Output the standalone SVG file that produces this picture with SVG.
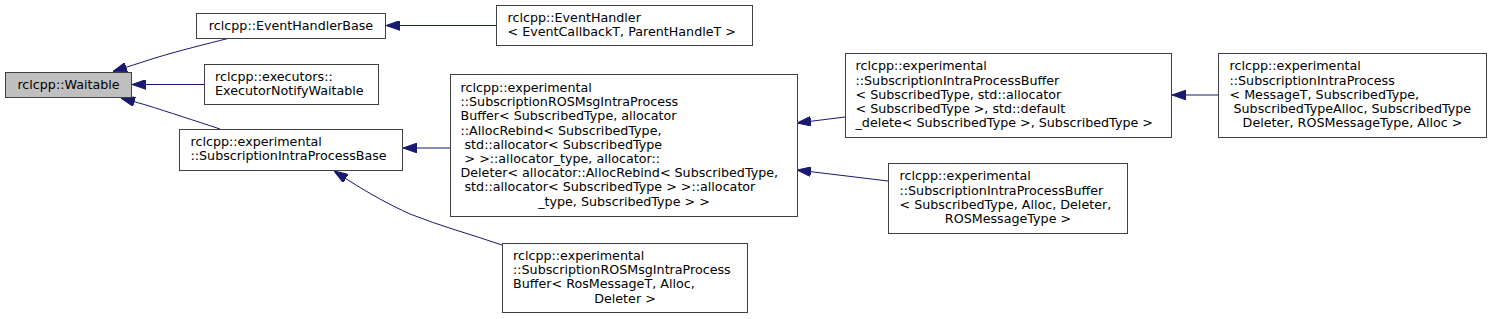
<svg xmlns="http://www.w3.org/2000/svg" width="1492" height="319" viewBox="0 0 1492 319">
<style>
.box{fill:#ffffff;stroke:#404040;stroke-width:1}
.root{fill:#bfbfbf;stroke:#404040;stroke-width:1}
.t{font-family:"DejaVu Sans",sans-serif;font-size:12.7px;fill:#000000}
.c{text-anchor:middle}
.e{fill:none;stroke:#191970;stroke-width:1;marker-end:url(#arr)}
</style>
<defs>
<marker id="arr" markerUnits="userSpaceOnUse" markerWidth="14" markerHeight="10" viewBox="0 0 13 9" refX="13" refY="4.5" orient="auto">
<path d="M0,0 L13,4.5 L0,9 z" fill="#191970" stroke="#191970" stroke-width="1"/>
</marker>
</defs>
<rect width="1492" height="319" fill="#ffffff"/>
<g id="edges">
<path class="e" d="M496,25.5 L386,25.5"/>
<path class="e" d="M230,38 C206,44 178,51 155,58 L113,71.5"/>
<path class="e" d="M204,84.5 L132,84.5"/>
<path class="e" d="M220,129 C196,121 168,112 146,105 L121,98"/>
<path class="e" d="M450,148 L403,148"/>
<path class="e" d="M502,245 C470,234 440,226 410,214 C390,205 370,194 348,180 L334,171"/>
<path class="e" d="M845,117 L797,123"/>
<path class="e" d="M888,181 L797,170"/>
<path class="e" d="M1218,95 L1172,95"/>
</g>
<g id="n_waitable">
<rect class="root" x="5.5" y="72.5" width="126" height="25"/>
<text class="t c" x="68.5" y="89">rclcpp::Waitable</text>
</g>
<g id="n_eventhandlerbase">
<rect class="box" x="196.5" y="13.5" width="189" height="25"/>
<text class="t c" x="291" y="30">rclcpp::EventHandlerBase</text>
</g>
<g id="n_executornotify">
<rect class="box" x="204.5" y="64.5" width="174" height="40"/>
<text class="t"><tspan x="215" y="80.5">rclcpp::executors::</tspan><tspan x="215" y="94.7">ExecutorNotifyWaitable</tspan></text>
</g>
<g id="n_sipbase">
<rect class="box" x="179.5" y="129.5" width="223" height="41"/>
<text class="t"><tspan x="190.5" y="146">rclcpp::experimental</tspan><tspan x="190.5" y="160.2">::SubscriptionIntraProcessBase</tspan></text>
</g>
<g id="n_eventhandler">
<rect class="box" x="496.5" y="5.5" width="256" height="40"/>
<text class="t"><tspan x="507.5" y="21.5">rclcpp::EventHandler</tspan><tspan x="507.5" y="35.7">&lt; EventCallbackT, ParentHandleT &gt;</tspan></text>
</g>
<g id="n_rosmsgbuffer">
<rect class="box" x="450.5" y="74.5" width="347" height="142"/>
<text class="t"><tspan x="460.5" y="92">rclcpp::experimental</tspan><tspan x="460.5" y="106.2">::SubscriptionROSMsgIntraProcess</tspan><tspan x="460.5" y="120.4">Buffer&lt; SubscribedType, allocator</tspan><tspan x="460.5" y="134.6">::AllocRebind&lt; SubscribedType,</tspan><tspan x="464.5" y="148.8">std::allocator&lt; SubscribedType</tspan><tspan x="464.5" y="163">&gt; &gt;::allocator_type, allocator::</tspan><tspan x="460.5" y="177.2">Deleter&lt; allocator::AllocRebind&lt; SubscribedType,</tspan><tspan x="464.5" y="191.4">std::allocator&lt; SubscribedType &gt; &gt;::allocator</tspan><tspan x="624" y="205.6" text-anchor="middle">_type, SubscribedType &gt; &gt;</tspan></text>
</g>
<g id="n_rosmsgbuffer2">
<rect class="box" x="502.5" y="243.5" width="245" height="69"/>
<text class="t"><tspan x="513" y="260">rclcpp::experimental</tspan><tspan x="513" y="274.2">::SubscriptionROSMsgIntraProcess</tspan><tspan x="513" y="288.4">Buffer&lt; RosMessageT, Alloc,</tspan><tspan x="625" y="302.6" text-anchor="middle">Deleter &gt;</tspan></text>
</g>
<g id="n_sipbuffer1">
<rect class="box" x="845.5" y="53.5" width="326" height="84"/>
<text class="t"><tspan x="855.5" y="70.3">rclcpp::experimental</tspan><tspan x="855.5" y="84.5">::SubscriptionIntraProcessBuffer</tspan><tspan x="855.5" y="98.7">&lt; SubscribedType, std::allocator</tspan><tspan x="855.5" y="112.9">&lt; SubscribedType &gt;, std::default</tspan><tspan x="855.5" y="127.1">_delete&lt; SubscribedType &gt;, SubscribedType &gt;</tspan></text>
</g>
<g id="n_sipbuffer2">
<rect class="box" x="888.5" y="163.5" width="239" height="70"/>
<text class="t"><tspan x="899.5" y="180.3">rclcpp::experimental</tspan><tspan x="899.5" y="194.5">::SubscriptionIntraProcessBuffer</tspan><tspan x="899.5" y="208.7">&lt; SubscribedType, Alloc, Deleter,</tspan><tspan x="1008" y="222.9" text-anchor="middle">ROSMessageType &gt;</tspan></text>
</g>
<g id="n_sip">
<rect class="box" x="1218.5" y="53.5" width="268" height="84"/>
<text class="t"><tspan x="1229.5" y="70.3">rclcpp::experimental</tspan><tspan x="1229.5" y="84.5">::SubscriptionIntraProcess</tspan><tspan x="1229.5" y="98.7">&lt; MessageT, SubscribedType,</tspan><tspan x="1233.5" y="112.9">SubscribedTypeAlloc, SubscribedType</tspan><tspan x="1352.5" y="127.1" text-anchor="middle">Deleter, ROSMessageType, Alloc &gt;</tspan></text>
</g>
</svg>
